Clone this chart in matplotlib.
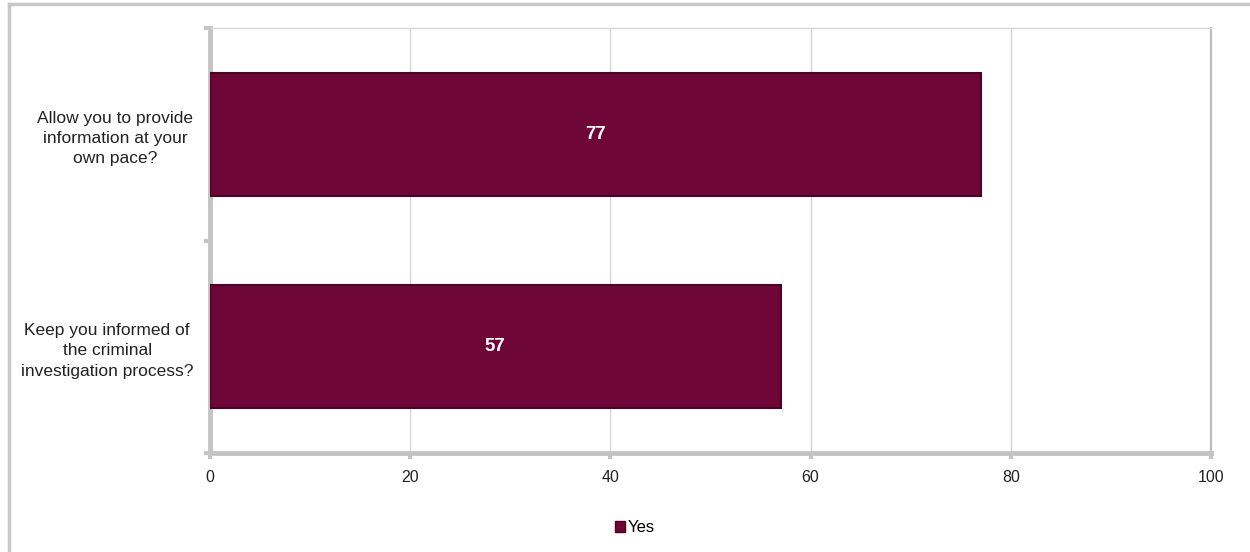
import matplotlib.pyplot as plt
from matplotlib.lines import Line2D
from matplotlib.patches import Patch

plt.rcParams['font.family'] = ['Liberation Sans', 'DejaVu Sans']

categories = ['Allow you to provide\ninformation at your\nown pace?',
              'Keep you informed of\nthe criminal\ninvestigation process?']
yes_vals = [77, 57]
x_ticks = [0, 20, 40, 60, 80, 100]

bar_color = '#6e0638'
axis_gray = '#c4c4c4'
grid_gray = '#d6d6d6'

fig = plt.figure(figsize=(12.5, 5.52), dpi=100)
ax = fig.add_axes([210 / 1250, 99 / 552, 1001 / 1250, 425 / 552])

y = list(range(len(categories)))
bars = ax.barh(y, yes_vals, height=0.58, color=bar_color,
               edgecolor='#4a0226', linewidth=1.5, zorder=3, label='Yes')

for b, v in zip(bars, yes_vals):
    ax.text(b.get_width() / 2, b.get_y() + b.get_height() / 2, str(v),
            ha='center', va='center', color='white', fontsize=13.5,
            fontweight='bold', zorder=4)

ax.set_xlim(0, 100)
ax.set_ylim(1.5, -0.5)
ax.set_xticks(x_ticks)
ax.set_xticklabels([str(t) for t in x_ticks], fontsize=11.5, color='#222222')
ax.set_yticks(y)
ax.set_yticklabels(categories, fontsize=12.5, color='#222222')
for lbl in ax.get_yticklabels():
    lbl.set_multialignment('center')
    lbl.set_linespacing(1.45)
ax.tick_params(axis='y', length=0, pad=12)
ax.set_yticks([-0.5, 0.5, 1.5], minor=True)
ax.tick_params(axis='y', which='minor', length=4, width=3, color=axis_gray)
ax.tick_params(axis='x', length=4, width=3, color=axis_gray, pad=8)

ax.grid(axis='x', color=grid_gray, linewidth=1, zorder=0)
for s in ['left', 'bottom']:
    ax.spines[s].set_color(axis_gray)
    ax.spines[s].set_linewidth(3.5)
ax.spines['top'].set_color(grid_gray)
ax.spines['top'].set_linewidth(1)
ax.spines['right'].set_color('#bdbdbd')
ax.spines['right'].set_linewidth(1.6)

handle = Patch(facecolor=bar_color, edgecolor='#4a0226')
fig.legend([handle], ['Yes'], loc='center', bbox_to_anchor=(0.508, 0.044),
           frameon=False, fontsize=12, handlelength=0.6, handleheight=0.6,
           handletextpad=0.2)

# outer chart border (only left and top visible in the crop)
fig.add_artist(Line2D([9 / 1250, 9 / 1250], [0, 1 - 4 / 552],
                      transform=fig.transFigure, color='#c8c8c8', linewidth=2.5))
fig.add_artist(Line2D([9 / 1250, 1], [1 - 4 / 552, 1 - 4 / 552],
                      transform=fig.transFigure, color='#c8c8c8', linewidth=2.5))

fig.savefig('out.png', dpi=100)
